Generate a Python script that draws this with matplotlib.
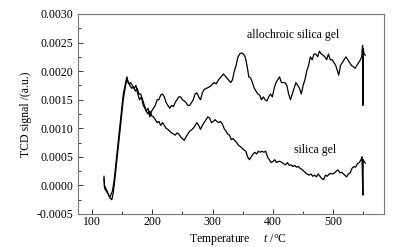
import matplotlib
matplotlib.use("Agg")
import matplotlib.pyplot as plt
from matplotlib.ticker import MultipleLocator, FormatStrFormatter

plt.rcParams['font.family'] = ['Liberation Serif', 'DejaVu Serif']
plt.rcParams['mathtext.fontset'] = 'custom'
plt.rcParams['mathtext.it'] = 'Liberation Serif:italic'
plt.rcParams['mathtext.rm'] = 'Liberation Serif'

# allochroic silica gel
allo_t = [120, 121, 123, 126, 128, 130, 132, 134, 137, 140, 143, 146, 149, 152, 155, 158, 160, 163, 166,
          169, 172, 175, 178, 181, 184, 187, 190, 193, 196, 199, 202, 205, 208, 211, 214, 217, 220, 223,
          226, 229, 232, 235, 238, 241, 244, 247, 250, 253, 256, 259, 262, 265, 268, 271, 274, 277, 280,
          283, 286, 290, 294, 298, 302, 306, 310, 314, 318, 322, 326, 330, 333, 336, 339, 342, 345, 348,
          351, 354, 357, 360, 363, 366, 369, 372, 375, 378, 381, 384, 387, 390, 393, 396, 399, 402, 405,
          408, 411, 414, 417, 420, 423, 426, 429, 432, 435, 438, 441, 444, 447, 450, 453, 456, 459, 462,
          465, 468, 471, 474, 477, 480, 483, 486, 489, 492, 495, 498, 501, 504, 507, 509, 512, 515, 518,
          521, 524, 527, 530, 533, 536, 539, 542, 545, 547, 548.5, 549, 549.5, 551, 553]
allo_v = [0.00016, 0.0, -0.00005, -0.00012, -0.00018, -0.0002, -0.00015, -0.0001, 0.0001, 0.0004, 0.0007,
          0.001, 0.0013, 0.0016, 0.00175, 0.0019, 0.0018, 0.00175, 0.0017, 0.00172, 0.00165, 0.0017, 0.0016,
          0.0016, 0.0015, 0.0014, 0.0013, 0.00135, 0.0012, 0.0013, 0.00135, 0.0014, 0.0015, 0.0015, 0.00158,
          0.0016, 0.00155, 0.00145, 0.0014, 0.00135, 0.0014, 0.00138, 0.00145, 0.0015, 0.00155, 0.00155,
          0.0015, 0.00148, 0.00145, 0.0014, 0.0014, 0.00145, 0.0015, 0.0016, 0.00162, 0.00155, 0.0015,
          0.00162, 0.00168, 0.0017, 0.00172, 0.00175, 0.0018, 0.00178, 0.00185, 0.0019, 0.00195, 0.0019,
          0.00185, 0.0018, 0.00185, 0.002, 0.0021, 0.00225, 0.0023, 0.00232, 0.0023, 0.00225, 0.0021, 0.0019,
          0.00188, 0.0018, 0.0017, 0.00165, 0.0016, 0.00158, 0.0015, 0.00155, 0.0015, 0.00148, 0.00155,
          0.0016, 0.00155, 0.0017, 0.0018, 0.00185, 0.0019, 0.0018, 0.0018, 0.0018, 0.00175, 0.0016, 0.0015,
          0.0016, 0.0017, 0.0018, 0.00175, 0.0017, 0.0016, 0.00175, 0.00185, 0.002, 0.0021, 0.00225, 0.0022,
          0.0023, 0.0023, 0.00225, 0.00235, 0.0023, 0.00228, 0.00225, 0.0022, 0.0023, 0.0022, 0.0022,
          0.00215, 0.0021, 0.002, 0.00193, 0.0021, 0.00215, 0.0022, 0.00225, 0.0022, 0.00215, 0.0021,
          0.00208, 0.00205, 0.0021, 0.00215, 0.0022, 0.00225, 0.00245, 0.0014, 0.0024, 0.0023, 0.00228]

# silica gel
sg_t = [120, 121, 124, 127, 130, 133, 135, 137, 140, 143, 146, 149, 152, 155, 158, 161, 164, 167, 170, 173,
        176, 179, 182, 185, 188, 190, 193, 196, 199, 202, 205, 208, 211, 214, 217, 220, 223, 226, 229, 232,
        235, 238, 241, 244, 247, 250, 253, 256, 259, 262, 265, 268, 271, 274, 277, 280, 283, 286, 289, 292,
        295, 298, 301, 304, 307, 310, 313, 316, 319, 322, 325, 328, 331, 334, 337, 340, 343, 346, 349, 352,
        355, 358, 361, 364, 367, 370, 373, 376, 379, 382, 385, 388, 391, 394, 397, 400, 403, 406, 409, 412,
        415, 418, 421, 424, 427, 430, 433, 436, 439, 442, 445, 448, 451, 454, 457, 460, 463, 466, 469, 472,
        475, 478, 481, 484, 487, 490, 493, 496, 499, 502, 505, 508, 511, 514, 517, 520, 522, 525, 528, 531,
        534, 537, 540, 543, 546, 547.5, 549, 549.5, 551, 553]
sg_v = [0.00012, -0.00005, -0.0001, -0.00015, -0.00022, -0.00025, -0.00015, 0.0, 0.0003, 0.0006, 0.0009,
        0.0012, 0.0015, 0.0017, 0.00188, 0.00178, 0.0018, 0.00175, 0.0017, 0.00175, 0.0016, 0.0015, 0.00155,
        0.0014, 0.00135, 0.0013, 0.00125, 0.0013, 0.00122, 0.0012, 0.00115, 0.0011, 0.00112, 0.00105, 0.0011,
        0.00105, 0.001, 0.00098, 0.00095, 0.00092, 0.0009, 0.00088, 0.00092, 0.0009, 0.00085, 0.00082,
        0.00079, 0.00085, 0.0009, 0.00095, 0.00097, 0.001, 0.00105, 0.0011, 0.00105, 0.00098, 0.00105,
        0.0011, 0.00115, 0.0012, 0.00118, 0.0011, 0.00112, 0.00115, 0.00112, 0.0011, 0.00112, 0.00108, 0.001,
        0.00095, 0.0009, 0.00088, 0.0008, 0.00082, 0.00078, 0.00075, 0.0007, 0.00068, 0.00065, 0.00062,
        0.0006, 0.0005, 0.00045, 0.0005, 0.00055, 0.00058, 0.00055, 0.0006, 0.00058, 0.0006, 0.00058, 0.0006,
        0.0005, 0.00045, 0.0004, 0.00042, 0.00045, 0.0004, 0.00042, 0.00042, 0.0004, 0.00038, 0.00036,
        0.0004, 0.00035, 0.00036, 0.00033, 0.00035, 0.00032, 0.00033, 0.0003, 0.00028, 0.00025, 0.00022,
        0.0002, 0.00018, 0.0002, 0.00016, 0.00018, 0.00015, 0.0002, 0.00016, 0.00012, 0.0001, 0.00018,
        0.00016, 0.0002, 0.00021, 0.0002, 0.00022, 0.00025, 0.00027, 0.00022, 0.00023, 0.0002, 0.00017,
        0.00015, 0.0002, 0.00022, 0.0003, 0.00033, 0.00032, 0.00038, 0.0004, 0.00045, 0.0005, -0.00017,
        0.00045, 0.00042, 0.00039]

fig = plt.figure(figsize=(3.96, 2.47), dpi=100)
ax = fig.add_axes([78/396, 1-214/247, (384-78)/396, (214-14)/247])

ax.plot(allo_t, allo_v, color='black', lw=0.9)
ax.plot(sg_t, sg_v, color='black', lw=0.9)

ax.set_xlim(77, 584)
ax.set_ylim(-0.0005, 0.0030)
ax.xaxis.set_major_locator(MultipleLocator(100))
ax.xaxis.set_minor_locator(MultipleLocator(50))
ax.yaxis.set_major_locator(MultipleLocator(0.0005))
ax.yaxis.set_minor_locator(MultipleLocator(0.00025))
ax.yaxis.set_major_formatter(FormatStrFormatter('%.4f'))
ax.tick_params(which='both', direction='in', labelsize=8.5, color='#333333', width=0.7)
ax.tick_params(which='major', length=3.5)
ax.tick_params(which='minor', length=2)
ax.tick_params(axis='x', pad=1.5)
for s in ax.spines.values():
    s.set_color('#777777')
    s.set_linewidth(0.8)

ax.text(433, 0.00263, 'allochroic silica gel', ha='center', va='center', fontsize=8.5)
ax.text(470, 0.00062, 'silica gel', ha='center', va='center', fontsize=8.5)

ax.set_ylabel('TCD signal /(a.u.)', fontsize=8.5, labelpad=3)
fig.text(238/396, 1-239/247, 'Temperature     $t$ /\u00b0C', ha='center', va='center', fontsize=8.5)

fig.savefig('out.png', dpi=100)
